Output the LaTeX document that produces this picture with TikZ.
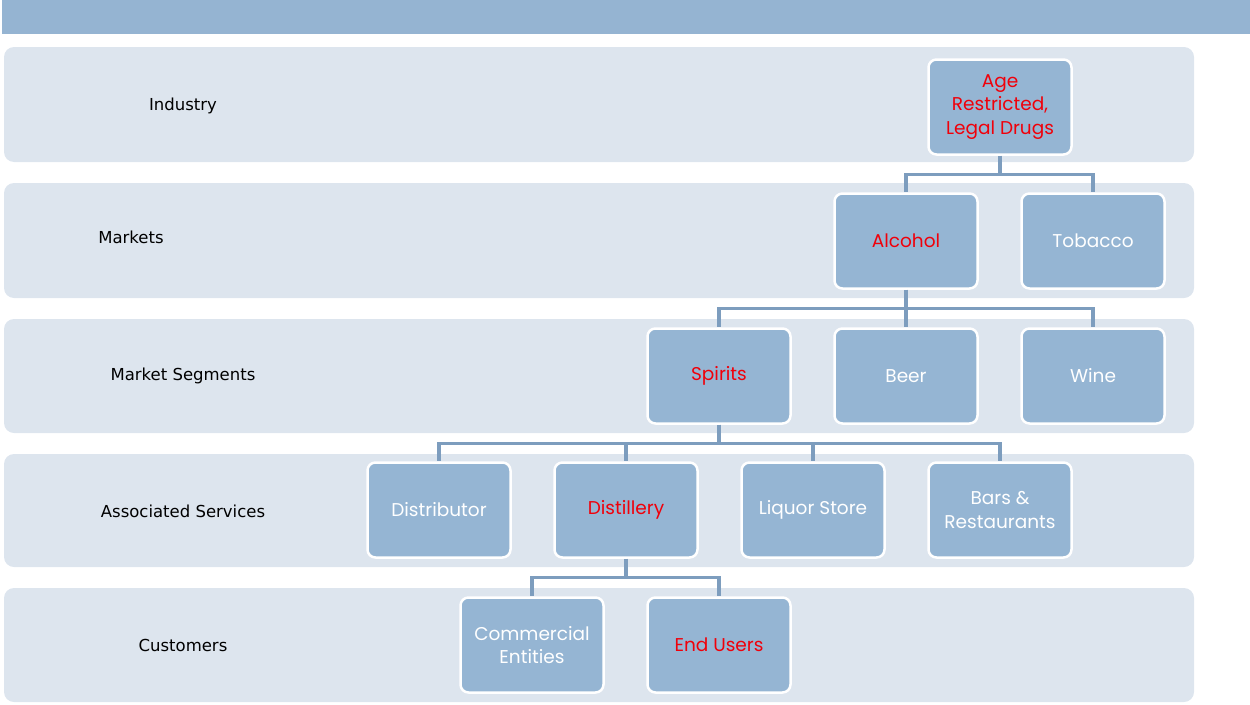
\documentclass[tikz,border=0pt]{standalone}
\usepackage{fontspec}
\setmainfont{Poppins}
\newfontfamily\labelfont{DejaVu Sans}
\definecolor{barblue}{RGB}{149,180,210}
\definecolor{rowgray}{RGB}{221,229,238}
\definecolor{boxblue}{RGB}{149,181,211}
\definecolor{linkblue}{RGB}{125,157,190}
\definecolor{hotred}{RGB}{240,0,10}

\tikzset{
  rowband/.style={fill=rowgray, rounded corners=10pt},
  level/.style={font=\labelfont\fontsize{16.5}{19}\selectfont, text=black},
  unit/.style={draw=white, line width=2.5pt, fill=boxblue, rounded corners=8pt,
    minimum width=143pt, minimum height=95pt, align=center, text=white,
    font=\fontsize{18.5}{23.5}\selectfont},
  focus/.style={unit, text=hotred},
  link/.style={draw=linkblue, line width=3.2pt}
}

\begin{document}
\begin{tikzpicture}[x=1pt, y=-1pt]
        \useasboundingbox (0, 0) rectangle (1250, 704);
        % header and row bands
        \fill[barblue] (2, 0) rectangle (1250, 34);
        \fill[rowband] (4, 47) rectangle (1194, 162);
        \fill[rowband] (4, 183) rectangle (1194, 298);
        \fill[rowband] (4, 319) rectangle (1194, 433);
        \fill[rowband] (4, 454) rectangle (1194, 567);
        \fill[rowband] (4, 588) rectangle (1194, 702);

        \node[level] (lindustry) at (183, 106) {Industry};
        \node[level] (lmarkets) at (131, 237) {Markets};
        \node[level] (lsegments) at (183, 376) {Market Segments};
        \node[level] (lservices) at (183, 511) {Associated Services};
        \node[level] (lcustomers) at (183, 645) {Customers};

        \node[focus] (age) at (1000, 107) {Age\\Restricted,\\Legal Drugs};
        \node[focus] (alcohol) at (906, 241) {Alcohol};
        \node[unit] (tobacco) at (1093, 241) {Tobacco};
        \node[focus] (spirits) at (719, 376) {Spirits};
        \node[unit] (beer) at (906, 376) {Beer};
        \node[unit] (wine) at (1093, 376) {Wine};
        \node[unit] (distributor) at (439, 510) {Distributor};
        \node[focus] (distillery) at (626, 510) {Distillery};
        \node[unit] (liquor) at (813, 510) {Liquor Store};
        \node[unit] (bars) at (1000, 510) {Bars \&\\Restaurants};
        \node[unit] (commercial) at (532, 645) {Commercial\\Entities};
        \node[focus] (endusers) at (719, 645) {End Users};

        % tree links
        \foreach \kid in {alcohol, tobacco}
            \draw[link] (age.south) -- ++(0, 19) -| (\kid.north);
        \foreach \kid in {spirits, beer, wine}
            \draw[link] (alcohol.south) -- ++(0, 19) -| (\kid.north);
        \foreach \kid in {distributor, distillery, liquor, bars}
            \draw[link] (spirits.south) -- ++(0, 19) -| (\kid.north);
        \foreach \kid in {commercial, endusers}
            \draw[link] (distillery.south) -- ++(0, 19) -| (\kid.north);
    \end{tikzpicture}
\end{document}
